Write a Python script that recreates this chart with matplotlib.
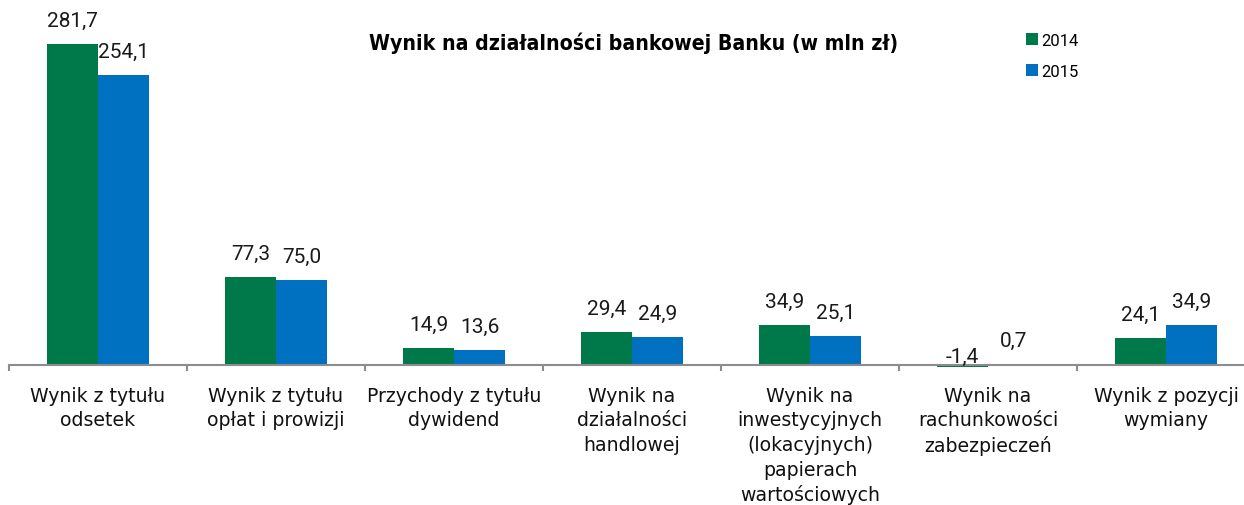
import matplotlib
matplotlib.use("Agg")
import matplotlib.pyplot as plt
import numpy as np

categories = [
    "Wynik z tytułu\nodsetek",
    "Wynik z tytułu\nopłat i prowizji",
    "Przychody z tytułu\ndywidend",
    "Wynik na\ndziałalności\nhandlowej",
    "Wynik na\ninwestycyjnych\n(lokacyjnych)\npapierach\nwartościowych",
    "Wynik na\nrachunkowości\nzabezpieczeń",
    "Wynik z pozycji\nwymiany",
]
vals_2014 = [281.7, 77.3, 14.9, 29.4, 34.9, -1.4, 24.1]
vals_2015 = [254.1, 75.0, 13.6, 24.9, 25.1, 0.7, 34.9]
series_names = ["2014", "2015"]

GREEN = "#00794A"
BLUE = "#0070C0"
AXIS = "#8C8C8C"

fig = plt.figure(figsize=(12.44, 5.06), dpi=100)
ax = fig.add_axes([9 / 1244, 126.3 / 506, 1246 / 1244, 379.7 / 506])

x = np.arange(len(categories))
w = 51 / 178
b1 = ax.bar(x - w / 2, vals_2014, w, color=GREEN, label=series_names[0])
b2 = ax.bar(x + w / 2, vals_2015, w, color=BLUE, label=series_names[1])

ax.set_xlim(-0.5, len(categories) - 0.5)
ax.set_ylim(-12, 321.2)

for s in ["top", "right", "left"]:
    ax.spines[s].set_visible(False)
ax.spines["bottom"].set_position(("data", 0))
ax.spines["bottom"].set_color(AXIS)
ax.spines["bottom"].set_linewidth(1.5)
ax.set_yticks([])

# tick marks between categories, names centred under the bars
ax.set_xticks(np.arange(-0.5, len(categories)), labels=[])
ax.tick_params(axis="x", which="major", direction="out", length=4.5, width=1.5, color=AXIS)
ax.set_xticks(x, minor=True)
ax.set_xticklabels(categories, minor=True, fontsize=13.6, family="DejaVu Sans",
                   linespacing=1.37, color="#111111")
ax.tick_params(axis="x", which="minor", length=0, pad=15)

# data labels
for bars, vals in [(b1, vals_2014), (b2, vals_2015)]:
    for rect, v in zip(bars, vals):
        cx = rect.get_x() + rect.get_width() / 2
        ax.annotate(f"{v:.1f}".replace(".", ","), (cx, max(v, 0)),
                    xytext=(0, 17 if v > 0 else 6), textcoords="offset points",
                    ha="center", va="center", fontsize=15, family="Roboto",
                    color="#1a1a1a")

fig.text(634 / 1244, 1 - 43 / 506, "Wynik na działalności bankowej Banku (w mln zł)",
         ha="center", va="center", fontsize=15.2, fontweight="bold",
         family="DejaVu Sans", fontstretch="condensed")

leg = fig.legend(handles=[b1, b2], loc="upper left", bbox_to_anchor=(1026 / 1244, 1 - 34 / 506),
                 frameon=False, prop={"family": "Roboto", "size": 12},
                 handlelength=0.7, handleheight=0.7, handletextpad=0.2,
                 labelspacing=0.95, borderaxespad=0, borderpad=0)

fig.savefig("out.png", dpi=100)
